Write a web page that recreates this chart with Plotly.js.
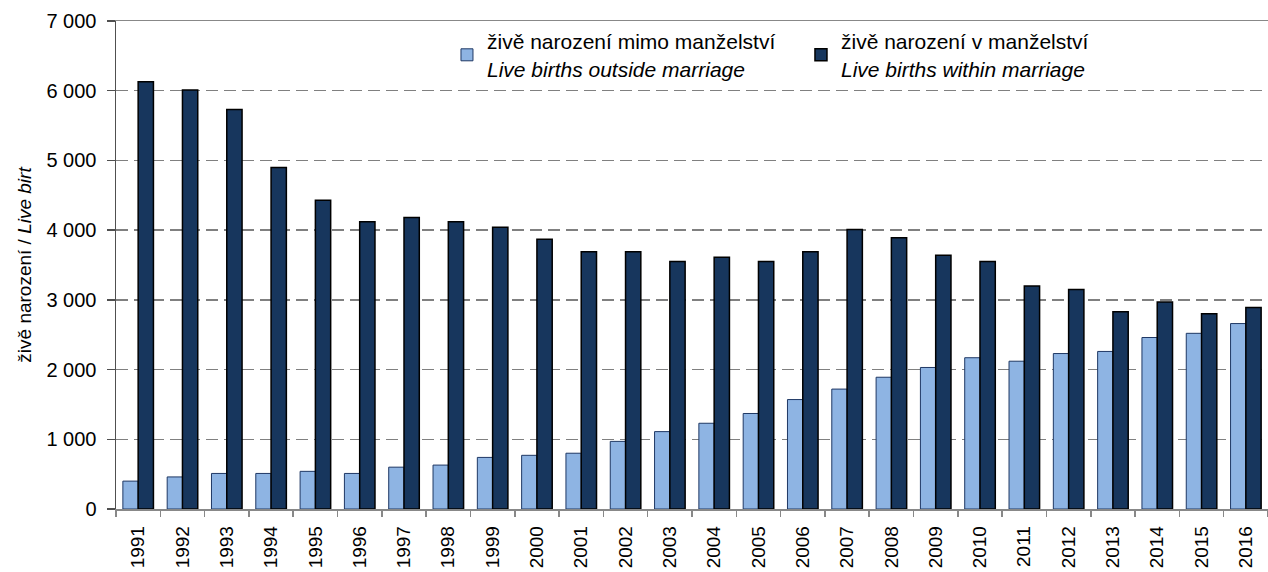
<!DOCTYPE html>
<html><head><meta charset="utf-8">
<script src="https://cdn.plot.ly/plotly-3.0.1.min.js"></script>
<style>html,body{margin:0;padding:0;background:#fff}#chart{width:1268px;height:572px}</style>
</head><body><div id="chart"></div>
<script>
const years = ['1991','1992','1993','1994','1995','1996','1997','1998','1999','2000','2001','2002','2003','2004','2005','2006','2007','2008','2009','2010','2011','2012','2013','2014','2015','2016'];
const outsideMarriage = [400,460,510,510,540,510,600,630,740,770,800,970,1110,1230,1370,1570,1720,1890,2030,2170,2120,2230,2260,2460,2520,2660];
const withinMarriage = [6130,6010,5730,4900,4430,4120,4180,4120,4040,3870,3690,3690,3550,3610,3550,3690,4010,3890,3640,3550,3200,3150,2830,2970,2800,2890];
const nameOutside = 'živě narození mimo manželství<br><i>Live births outside marriage</i>';
const nameWithin = 'živě narození v manželství<br><i>Live births within marriage</i>';
const yTitle = 'živě narození / <i>Live birt</i>';

const FONT = 'Liberation Sans, Arial, sans-serif';
const traces = [
  {type:'bar', x:years, y:outsideMarriage, name:nameOutside,
   marker:{color:'#8EB4E3', line:{color:'#1F3864', width:1}}},
  {type:'bar', x:years, y:withinMarriage, name:nameWithin,
   marker:{color:'#17365D', line:{color:'#000000', width:1.5}}}
];
const layout = {
  width:1268, height:572,
  margin:{l:116, r:0, t:21, b:63},
  paper_bgcolor:'#fff', plot_bgcolor:'#fff',
  font:{family:FONT, size:18, color:'#000'},
  separators:', ',
  barmode:'group', bargap:0.31, bargroupgap:0,
  showlegend:true,
  legend:{orientation:'h', x:0.2873, xanchor:'left', y:1.0, yanchor:'top',
          entrywidth:309, entrywidthmode:'pixels',
          bgcolor:'rgba(0,0,0,0)', font:{family:FONT, size:21, color:'#000'}},
  xaxis:{type:'category', tickangle:-90, ticks:'outside', ticklen:6, tickcolor:'#888',
         tickwidth:1.5, tickson:'boundaries', showline:true, linecolor:'#888', linewidth:1.5,
         mirror:true, showgrid:false, ticklabelstandoff:8, automargin:false,
         tickfont:{family:FONT, size:19, color:'#000'}},
  yaxis:{range:[0,7000], dtick:1000, tickformat:',d', ticks:'outside', ticklen:8,
         tickcolor:'#505050', tickwidth:1.5, showline:true, linecolor:'#505050', linewidth:1.5,
         showgrid:true, gridcolor:'#808080', gridwidth:1.5, griddash:'12px,6px',
         zeroline:false, ticklabelstandoff:6, automargin:false,
         tickfont:{family:FONT, size:20, color:'#000'},
         title:{text:yTitle, font:{family:FONT, size:19, color:'#000'}, standoff:10}}
};
Plotly.newPlot('chart', traces, layout, {displayModeBar:false, staticPlot:true});
</script></body></html>
